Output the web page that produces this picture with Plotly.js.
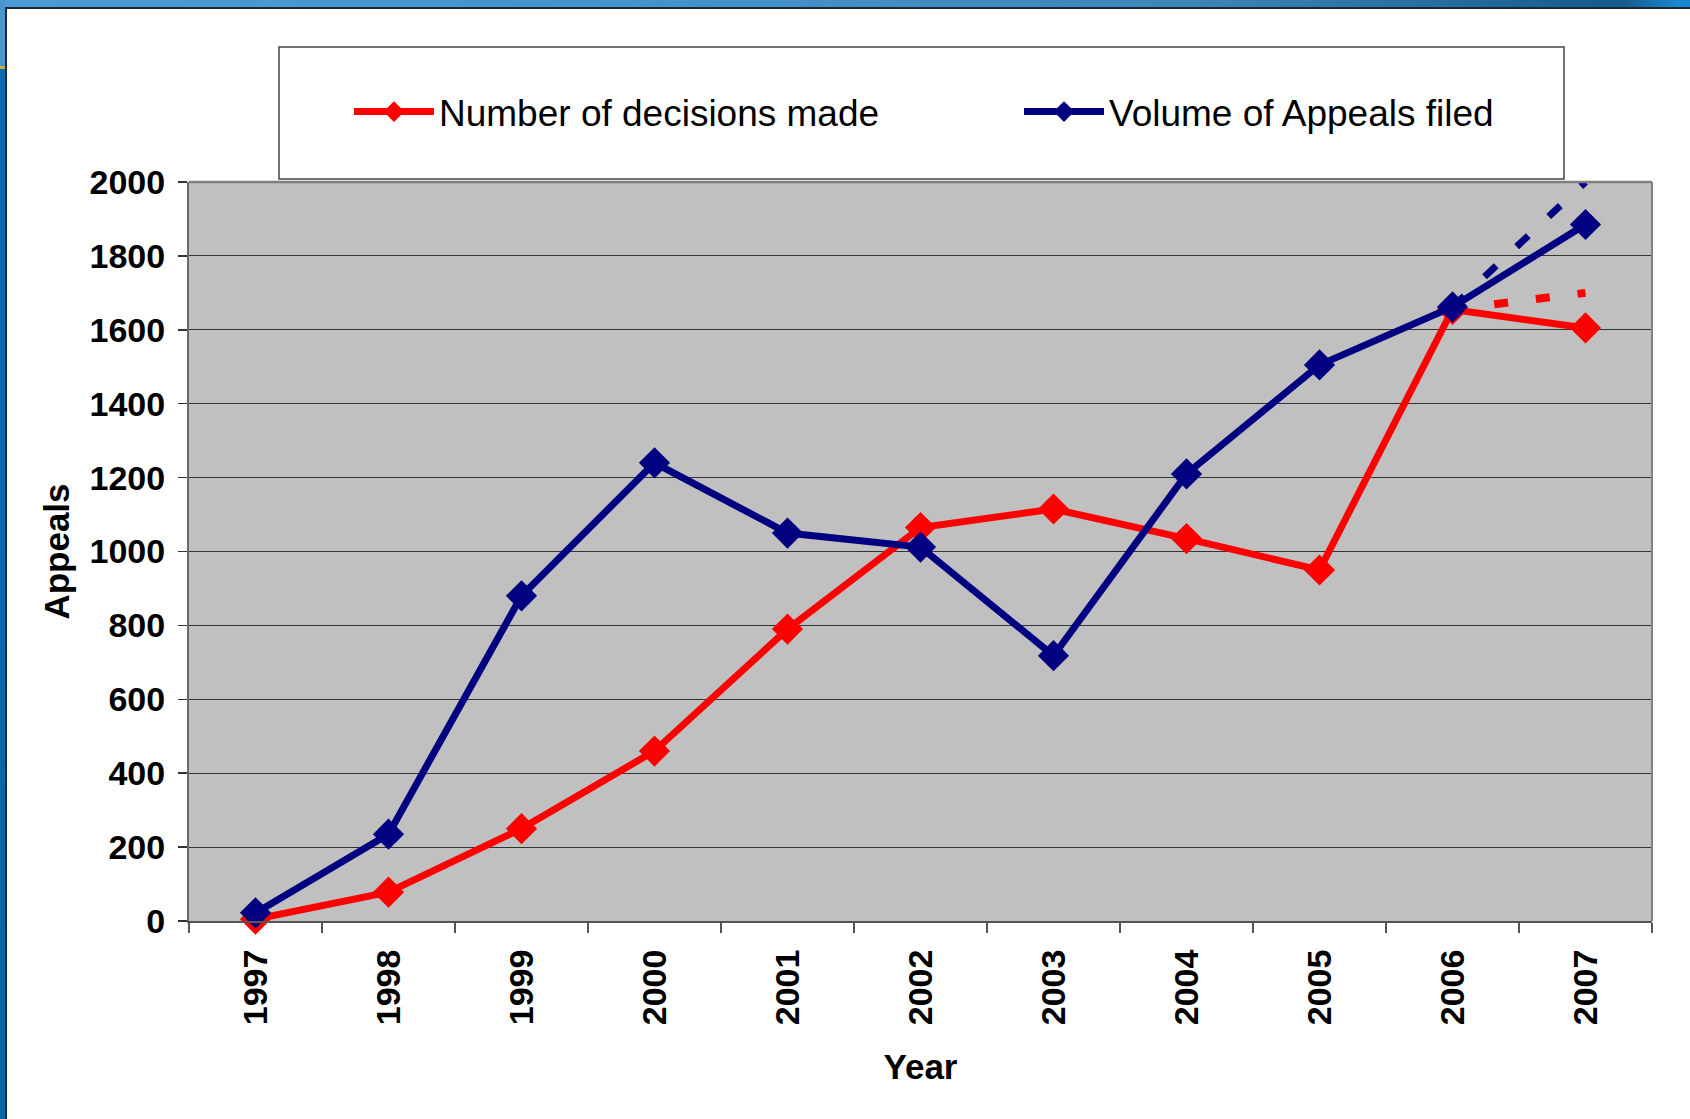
<!DOCTYPE html>
<html>
<head>
<meta charset="utf-8">
<script src="https://cdn.plot.ly/plotly-3.0.1.min.js"></script>
<style>
  html, body { margin: 0; padding: 0; background: #ffffff; }
  #wrap { position: relative; width: 1690px; height: 1119px; overflow: hidden; background: #ffffff; }
  #chart { position: absolute; left: 0; top: 0; width: 1690px; height: 1119px; }
  #topbar { position: absolute; left: 0; top: 0; width: 1690px; height: 7px;
    background: linear-gradient(to right, #4a9bd6 0%, #4391c9 45%, #3d86b8 70%, #2f76a8 80%, #16598c 96%, #1a88d0 99.3%, #1a88d0 100%); }
  #topline { position: absolute; left: 5px; top: 7px; width: 1685px; height: 2px; background: #1b2a38; }
  #leftbar { position: absolute; left: 0; top: 0; width: 5px; height: 1119px;
    background: linear-gradient(to bottom, #4a96cf 0px, #4a96cf 66px, #c9b22e 66px, #c9b22e 69px, #0a6ab0 69px, #0866aa 1119px); }
  #leftline { position: absolute; left: 5px; top: 7px; width: 2px; height: 1112px; background: #1b2a38; }
</style>
</head>
<body>
<div id="wrap">
  <div id="chart"></div>
  <div id="topbar"></div>
  <div id="topline"></div>
  <div id="leftbar"></div>
  <div id="leftline"></div>
</div>
<script>
// ---- data ----
var years = ['1997','1998','1999','2000','2001','2002','2003','2004','2005','2006','2007'];
var decisionsMade = [5, 78, 250, 460, 790, 1065, 1115, 1035, 950, 1655, 1605];
var appealsFiled = [22, 235, 880, 1240, 1050, 1012, 718, 1210, 1505, 1662, 1885];
var trendYears = ['2006', '2007'];
var decisionsTrend = [1655, 1700];
var appealsTrend = [1662, 2000];
var seriesNames = ['Number of decisions made', 'Volume of Appeals filed'];
var yTicks = [0, 200, 400, 600, 800, 1000, 1200, 1400, 1600, 1800, 2000];

var RED = '#ff0000';
var NAVY = '#000080';
var FONT = 'Liberation Sans, Arial, sans-serif';

var traces = [
  { x: trendYears, y: decisionsTrend, type: 'scatter', mode: 'lines', showlegend: false, hoverinfo: 'skip',
    line: { color: RED, width: 8, dash: '14px,28px' } },
  { x: trendYears, y: appealsTrend, type: 'scatter', mode: 'lines', showlegend: false, hoverinfo: 'skip',
    line: { color: NAVY, width: 7, dash: '16px,28px' } },
  { x: years, y: decisionsMade, type: 'scatter', mode: 'lines+markers', name: seriesNames[0], cliponaxis: false,
    legendwidth: 575,
    line: { color: RED, width: 7 }, marker: { symbol: 'diamond', size: 24, color: RED } },
  { x: years, y: appealsFiled, type: 'scatter', mode: 'lines+markers', name: seriesNames[1], cliponaxis: false,
    legendwidth: 400,
    line: { color: NAVY, width: 7 }, marker: { symbol: 'diamond', size: 24, color: NAVY } }
];

var layout = {
  width: 1690, height: 1119,
  margin: { l: 189, r: 38, t: 182, b: 198, pad: 0 },
  paper_bgcolor: 'rgba(0,0,0,0)',
  plot_bgcolor: '#c0c0c0',
  showlegend: true,
  legend: {
    orientation: 'h', x: (349 - 189) / 1463, xanchor: 'left', y: (921 - 112) / 739, yanchor: 'middle',
    bgcolor: 'rgba(0,0,0,0)', borderwidth: 0,
    font: { family: FONT, size: 37, color: '#000000' },
    itemwidth: 80, entrywidthmode: 'pixels', traceorder: 'normal'
  },
  xaxis: {
    type: 'category', range: [-0.5, 10.5], categoryorder: 'array', categoryarray: years,
    tickson: 'boundaries', ticks: 'outside', ticklen: 10, tickwidth: 1.5, tickcolor: '#555555',
    tickangle: -90, ticklabelstandoff: 13,
    tickfont: { family: FONT, size: 34, weight: 700, color: '#000000' },
    showline: true, linecolor: '#555555', linewidth: 2, mirror: false,
    showgrid: false, zeroline: false, fixedrange: true,
    title: { text: 'Year', font: { family: FONT, size: 35, weight: 700, color: '#000000' }, standoff: 30 }
  },
  yaxis: {
    range: [0, 2000], tickvals: yTicks, ticktext: yTicks.map(String),
    ticks: 'outside', ticklen: 9, tickwidth: 1.5, tickcolor: '#333333', ticklabelstandoff: 6,
    tickfont: { family: FONT, size: 34, weight: 700, color: '#000000' },
    showline: true, linecolor: '#6a6a6a', linewidth: 2, mirror: false,
    showgrid: true, gridcolor: '#333333', gridwidth: 1, zeroline: false, fixedrange: true,
    title: { text: 'Appeals', font: { family: FONT, size: 35, weight: 700, color: '#000000' }, standoff: 9 }
  },
  shapes: [
    { type: 'line', xref: 'paper', yref: 'paper', x0: 0, x1: 1, y0: 1, y1: 1, line: { color: '#808080', width: 2.5 } },
    { type: 'line', xref: 'paper', yref: 'paper', x0: 1, x1: 1, y0: 0, y1: 1, line: { color: '#808080', width: 2 } },
    { type: 'rect', xref: 'paper', yref: 'paper', layer: 'below',
      x0: (279 - 189) / 1463, x1: (1564 - 189) / 1463, y0: (921 - 179) / 739, y1: (921 - 47) / 739,
      fillcolor: '#ffffff', line: { color: '#444444', width: 1.5 } }
  ]
};

Plotly.newPlot('chart', traces, layout, { displayModeBar: false, staticPlot: true });
</script>
</body>
</html>
